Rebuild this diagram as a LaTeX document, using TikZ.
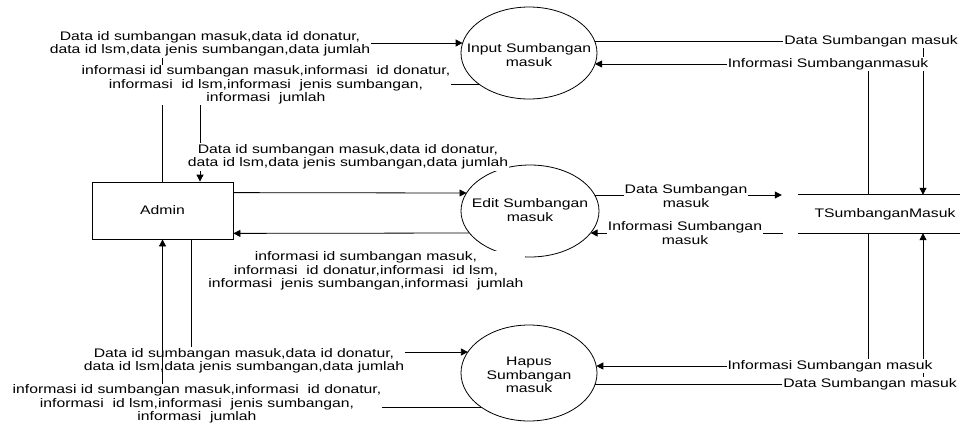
\documentclass[tikz,border=0pt]{standalone}
\usepackage{fontspec}
\setmainfont[FakeStretch=1.27]{Liberation Sans}
\usetikzlibrary{shapes.geometric,arrows.meta,calc}

\tikzset{
  proc/.style={draw, ellipse, line width=0.8pt},
  entity/.style={draw, rectangle, line width=0.8pt, minimum width=141pt, minimum height=57pt},
  flow/.style={line width=0.8pt, -{Triangle[length=7pt,width=7pt]}},
  lbl/.style={fill=white, align=center, inner sep=1pt},
}

\begin{document}
\begin{tikzpicture}[x=1pt, y=-1pt, font=\fontsize{12.4}{13.5}\selectfont]
\useasboundingbox (0,0) rectangle (960,426);

% processes, entity, store
\node[proc, minimum width=136pt, minimum height=92pt] (input) at (529,53) {};
\node[align=center] (inputtxt) at (529,55) {Input Sumbangan\\masuk};
\node[proc, minimum width=138pt, minimum height=92pt] (edit) at (530,211) {};
\node[align=center] (edittxt) at (530,210) {Edit Sumbangan\\masuk};
\node[proc, minimum width=136pt, minimum height=96pt] (hapus) at (529,373) {};
\node[align=center] (hapustxt) at (529,375) {Hapus\\Sumbangan\\masuk};
\node[entity] (admin) at (162.5,210.5) {Admin};
\node[minimum width=162pt, minimum height=38pt] (store) at (879,214) {};
\node (storetxt) at (885,214) {TSumbanganMasuk};
\draw[line width=0.8pt] (store.north west) -- (store.north east)
  (store.south west) -- (store.south east);

% admin <-> input
\draw[flow] (admin.north) |- ($(input.center)+(-66.4,-10)$);
\draw[flow] ($(input.center)+(-50.2,31)$) -| ($(admin.north)+(37.5,0)$);
\node[lbl] (admininput) at (210,44) {Data id sumbangan masuk,data id donatur,\\data id lsm,data jenis sumbangan,data jumlah};
\node[lbl] (inputadmin) at (266,85) {informasi id sumbangan masuk,informasi\ \ id donatur,\\informasi\ \ id lsm,informasi\ \ jenis sumbangan,\\informasi\ \ jumlah};

% admin <-> edit
\draw[flow] ($(admin.north east)+(0,11)$) -- ($(edit.center)+(-63.5,-18)$);
\draw[flow] ($(edit.center)+(-60.6,22)$) -- ($(admin.south east)+(0,-6)$);
\node[lbl] (adminedit) at (348,157) {Data id sumbangan masuk,data id donatur,\\data id lsm,data jenis sumbangan,data jumlah};
\node[lbl] (editadmin) at (366,271) {informasi id sumbangan masuk,\\informasi\ \ id donatur,informasi\ \ id lsm,\\informasi\ \ jenis sumbangan,informasi\ \ jumlah};

% admin <-> hapus
\draw[flow] ($(admin.south)+(28.5,0)$) |- ($(hapus.center)+(-61.1,-21)$);
\node[lbl] (adminhapus) at (244,361) {Data id sumbangan masuk,data id donatur,\\data id lsm,data jenis sumbangan,data jumlah};
\draw[flow] ($(hapus.center)+(-48,34)$) -| (admin.south);
\node[lbl] (hapusadmin) at (197,404) {informasi id sumbangan masuk,informasi\ \ id donatur,\\informasi\ \ id lsm,informasi\ \ jenis sumbangan,\\informasi\ \ jumlah};

% processes <-> store
\draw[flow] ($(input.center)+(65.6,-12)$) -| ($(store.north)+(44,0)$);
\draw[flow] ($(store.north)+(-11,0)$) |- ($(input.center)+(66,11)$);
\node[lbl] (inputstore) at (871,41) {Data Sumbangan masuk};
\node[lbl] (storeinput) at (828,64) {Informasi Sumbanganmasuk};

\draw[flow] ($(edit.center)+(64.7,-16)$) -- ($(store.west)+(-16,-19)$);
\draw[flow] ($(store.west)+(-15,19)$) -- ($(edit.center)+(60.6,22)$);
\node[lbl] (editstore) at (686,196) {Data Sumbangan\\masuk};
\node[lbl] (storeedit) at (685,233) {Informasi Sumbangan\\masuk};

\draw[flow] ($(store.south)+(-11,0)$) |- ($(hapus.center)+(67.3,-7)$);
\draw[flow] ($(hapus.center)+(66.2,11)$) -| ($(store.south)+(44,0)$);
\node[lbl] (storehapus) at (830,366) {Informasi Sumbangan masuk};
\node[lbl] (hapusstore) at (870,384) {Data Sumbangan masuk};
\end{tikzpicture}
\end{document}
